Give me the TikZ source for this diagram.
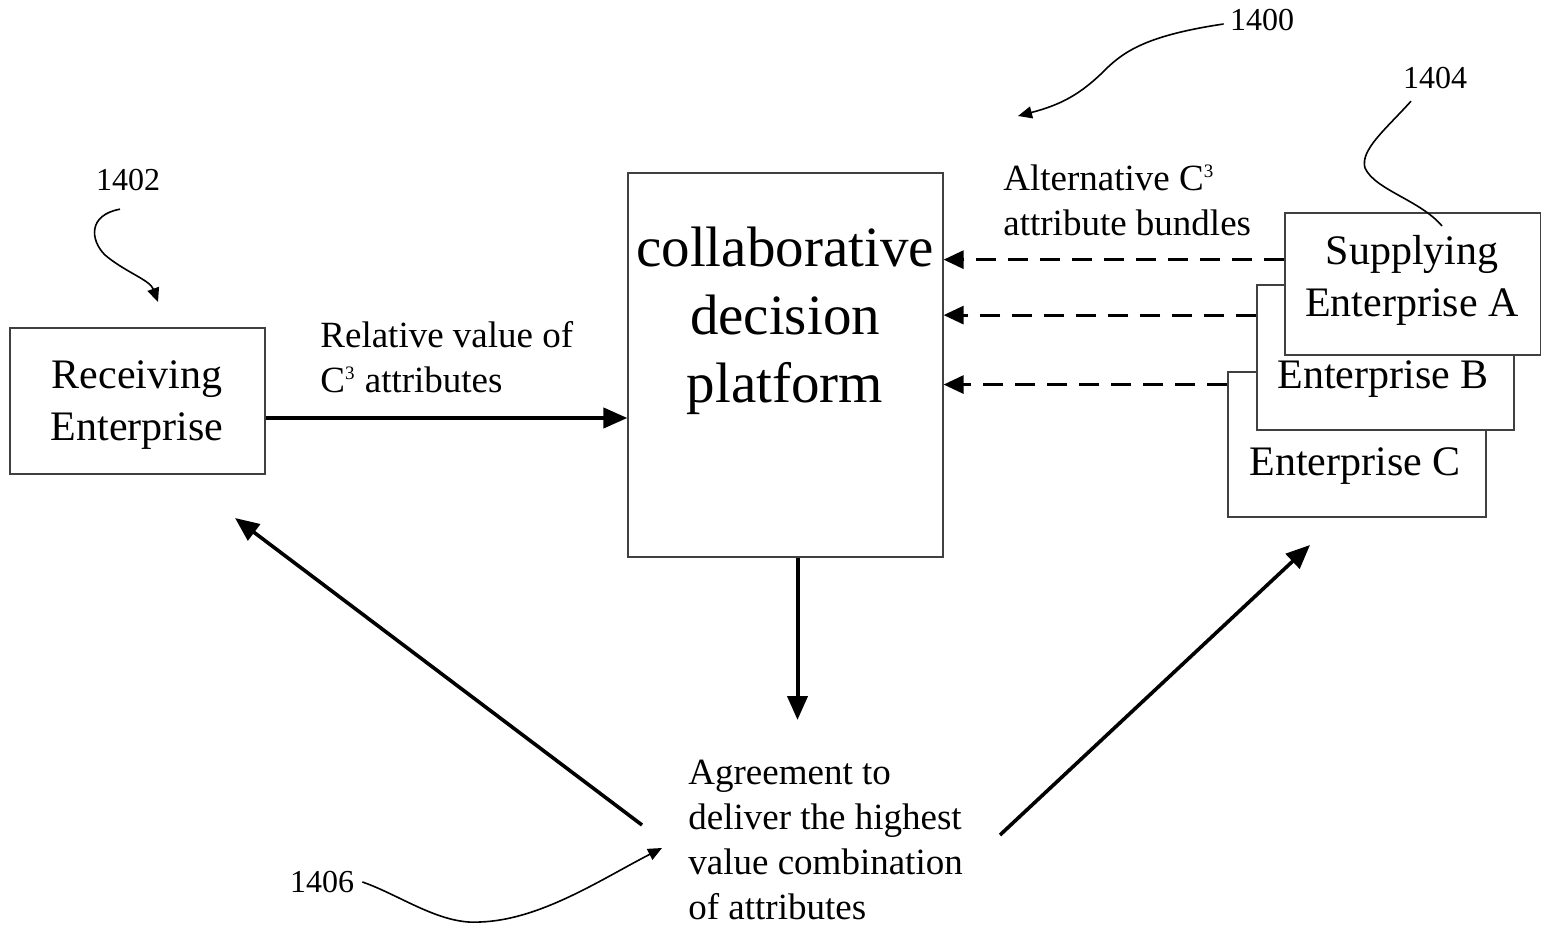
\documentclass[tikz,border=0pt]{standalone}
\usepackage{fontspec}
\setmainfont{Liberation Serif}
\usetikzlibrary{arrows.meta,calc,positioning}
\newcommand*{\xMin}{0}
\newcommand*{\xMax}{1541}
\newcommand*{\yMin}{0}
\newcommand*{\yMax}{929}
\newcommand*{\Cthree}{C\textsuperscript{\fontsize{9.5}{9.5}\selectfont 3}}
\tikzset{
	box/.style={draw=black!75,line width=0.6pt,fill=white,inner sep=0pt},
	boxtext/.style={font=\fontsize{21}{26}\selectfont,align=center,inner sep=0pt},
	bigtext/.style={font=\fontsize{28.5}{34}\selectfont,align=center,inner sep=0pt},
	labeltext/.style={font=\fontsize{18.5}{22.5}\selectfont,align=left,inner sep=0pt},
	reftext/.style={font=\fontsize{16}{19}\selectfont,inner sep=0pt},
	thickarrow/.style={-{Triangle[length=12pt,width=10pt]},line width=2pt},
	diagarrow/.style={-{Triangle[length=12pt,width=10pt]},line width=1.8pt},
	dasharrow/.style={-{Triangle[length=10pt,width=9pt]},line width=1.5pt,dash pattern=on 10pt off 6pt},
	leader/.style={line width=0.8pt},
	leadtip/.style={-{Triangle[length=7pt,width=6pt]},line width=0.8pt},
}

\begin{document}
\begin{tikzpicture}[x=0.5pt,y=-0.5pt]
\useasboundingbox (\xMin,\yMin) rectangle (\xMax,\yMax);

% receiving side
\node[box,minimum width=127.5pt,minimum height=73pt] (recv) at (137.5,401) {};
\node[boxtext] (recvtext) at (137,405) {Receiving\\Enterprise};
\node[labeltext,anchor=west] (relv) at (320,357) {Relative value of\\\Cthree{} attributes};

% platform
\node[box,minimum width=157.5pt,minimum height=192pt] (cdp) at (785.5,365) {};
\node[bigtext] (cdptext) at (785,321) {collaborative\\decision\\platform};

% supplying enterprises, back to front
\node[box,minimum width=129pt,minimum height=72.5pt] (entC) at (1357,444.5) {};
\node[boxtext] (entCtext) at (1355,466) {Enterprise C};
\node[box,minimum width=128.5pt,minimum height=72.5pt] (entB) at (1385.5,357.5) {};
\node[boxtext] (entBtext) at (1383,379) {Enterprise B};
\node[box,minimum width=128pt,minimum height=71pt] (supA) at (1413,284) {};
\node[boxtext] (supAtext) at (1412,280) {Supplying\\Enterprise A};
\node[labeltext,anchor=west] (alt) at (1003,200) {Alternative \Cthree\\attribute bundles};

% agreement
\node[labeltext,anchor=west] (agree) at (688,840) {Agreement to\\deliver the highest\\value combination\\of attributes};

% flows
\draw[thickarrow] ([yshift=-8.5pt]recv.east) -- ([yshift=-8.5pt]recv.east -| cdp.west);
\foreach \n/\f in {supA/0.33,entB/0.21,entC/0.09} {
	\coordinate (d\n) at ($(\n.north west)!\f!(\n.south west)$);
	\draw[dasharrow] (d\n) -- (d\n -| cdp.east);
}
\coordinate (cdpfoot) at ([xshift=6pt]cdp.south);
\coordinate (agreetop) at (cdpfoot |- 0,720);
\draw[thickarrow] (cdpfoot) -- (agreetop);

\coordinate (lfoot) at (642,825);
\coordinate (lhead) at (235,518);
\coordinate (rfoot) at (1000,835);
\coordinate (rhead) at (1310,545);
\draw[diagarrow] (lfoot) -- (lhead);
\draw[diagarrow] (rfoot) -- (rhead);

% reference numerals
\node[reftext] (r1400) at (1262,20) {1400};
\node[reftext] (r1402) at (128,180) {1402};
\node[reftext] (r1404) at (1435,78) {1404};
\node[reftext] (r1406) at (322,882) {1406};

\draw[leadtip] ([xshift=-3pt,yshift=-2pt]r1400.west) .. controls (1150,35) and (1125,50) .. (1105,70) .. controls (1080,95) and (1060,105) .. (1018,116);
\draw[leadtip] ([xshift=-4pt,yshift=-9pt]r1402.south) .. controls (88,215) and (90,240) .. (105,255) .. controls (125,272) and (150,280) .. (158,302);
\draw[leader] ([xshift=-12pt,yshift=-6pt]r1404.south) .. controls (1385,130) and (1360,150) .. (1365,168) .. controls (1375,190) and (1420,200) .. (1442,226);
\draw[leadtip] ([xshift=4pt]r1406.east) .. controls (400,895) and (440,925) .. (480,922) .. controls (540,920) and (600,880) .. (662,848);
\end{tikzpicture}
\end{document}
